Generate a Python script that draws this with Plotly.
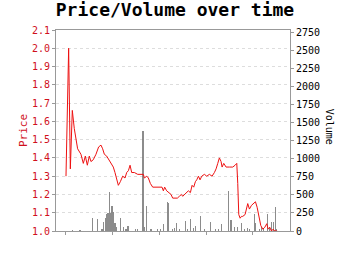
import plotly.graph_objects as go

# Price series (x in day-like units, ticks every 100)
price_x = [0, 5.7, 9.3, 13.5, 17.8, 21.4, 24.9, 32, 37.1, 41.4, 45.7, 49.9, 53.5, 58.4, 64.2, 69.9,
           74.9, 78.5, 82.1, 87.1, 91.4, 96.3, 101.3, 104.9, 108.5, 112.1, 116.4, 121.4, 126.4, 130,
           133.6, 137.2, 140.7, 146.4, 153.6, 160.7, 165.7, 167.9, 172.9, 176.4, 180.7, 185.7, 192.8,
           199.9, 205.6, 208.5, 211.3, 215.6, 219.2, 224.9, 228.5, 234.2, 238.5, 242.8, 247.1, 249.9,
           253.5, 258.5, 262.1, 266.4, 270, 273.5, 277.1, 280, 283.6, 287.1, 290.7, 296.4, 301.4,
           307.1, 312.8, 317.8, 321.4, 325, 328.5, 332.1, 334.3, 337.8, 342.8, 350, 357.1, 362.1,
           365.7, 367.8, 370, 372.9, 375.7, 378.5, 383.5, 389.2, 392.8, 397.1, 401.4, 405.7, 409.3,
           412.8, 417.1, 421.4, 425.7, 430, 432.9, 436.4, 440, 443.5, 447.1, 450, 452.1]
price = [1.30, 2.00, 1.34, 1.66, 1.56, 1.50, 1.45, 1.42, 1.37, 1.41, 1.36, 1.41, 1.38, 1.39, 1.42, 1.46,
         1.47, 1.45, 1.42, 1.41, 1.39, 1.37, 1.35, 1.32, 1.29, 1.25, 1.27, 1.30, 1.29, 1.32,
         1.33, 1.36, 1.32, 1.32, 1.31, 1.31, 1.31, 1.29, 1.30, 1.29, 1.26, 1.24, 1.24,
         1.24, 1.24, 1.22, 1.24, 1.22, 1.21, 1.20, 1.18, 1.18, 1.18, 1.19, 1.20, 1.19,
         1.20, 1.21, 1.22, 1.21, 1.25, 1.24, 1.27, 1.28, 1.30, 1.28, 1.30, 1.31, 1.30,
         1.31, 1.30, 1.32, 1.34, 1.37, 1.40, 1.38, 1.35, 1.37, 1.35, 1.35, 1.35, 1.36,
         1.37, 1.26, 1.09, 1.07, 1.08, 1.08, 1.09, 1.15, 1.12, 1.14, 1.15, 1.16, 1.13,
         1.08, 1.03, 1.01, 1.02, 1.04, 1.01, 1.02, 1.00, 1.01, 1.00, 1.00, 1.00]

# Volume bars (zoom x positions converted to data units)
vol_zx = [50, 72, 110, 125, 138, 143, 148, 152, 156, 160, 164, 168, 172, 177, 181, 193, 203, 210, 216,
          238, 244, 261, 265, 272, 285, 305, 313, 322, 334, 339, 350, 356, 362, 371, 390, 396, 405,
          412, 420, 435, 445, 465, 478, 488, 498, 518, 523, 528, 535, 545, 557, 565, 575, 582, 596,
          600, 610, 616, 622, 636, 640, 647, 652, 658, 662]
volume = [15, 15, 175, 166, 23, 129, 175, 235, 244, 535, 244, 350, 267, 106, 60, 175, 60, 23, 69,
          23, 28, 1387, 60, 346, 28, 23, 23, 97, 405, 382, 28, 37, 106, 23, 138, 23, 166,
          37, 64, 207, 23, 120, 23, 23, 92, 549, 152, 152, 60, 51, 106, 23, 37, 23, 240,
          115, 28, 60, 28, 230, 60, 129, 129, 332, 23]
vol_x = [round((z / 3 - 10) * 2.14, 1) for z in vol_zx]

price_ticks = [1.0, 1.1, 1.2, 1.3, 1.4, 1.5, 1.6, 1.7, 1.8, 1.9, 2.0, 2.1]
vol_ticks = list(range(0, 2751, 250))
x_ticks = [0, 100, 200, 300, 400]

mono = "DejaVu Sans Mono"
red = "#d0101c"
axis_gray = "#999999"

fig = go.Figure()
fig.add_trace(go.Bar(x=vol_x, y=volume, yaxis="y", width=2.4,
                     marker=dict(color="rgba(120,120,120,0.85)", line=dict(width=0)),
                     showlegend=False))
fig.add_trace(go.Scatter(x=price_x, y=price, yaxis="y2", mode="lines",
                         line=dict(color="#ee1111", width=1), showlegend=False))

fig.update_layout(
    width=350, height=255,
    margin=dict(l=56, r=60, t=30, b=24),
    paper_bgcolor="white", plot_bgcolor="white",
    title=dict(text="<b>Price/Volume over time</b>", x=0.5, xanchor="center",
               y=0.985, yanchor="top", font=dict(family=mono, size=18, color="black")),
    xaxis=dict(range=[-21.4, 479.7], tickvals=x_ticks, showticklabels=False,
               ticks="outside", ticklen=3, tickcolor=axis_gray,
               showline=True, linecolor=axis_gray, linewidth=1, mirror=True,
               showgrid=False, zeroline=False),
    yaxis=dict(side="right", range=[0, 2778], tickvals=vol_ticks,
               ticks="outside", ticklen=3, tickcolor=axis_gray,
               tickfont=dict(family=mono, size=10, color="black"),
               showline=True, linecolor=axis_gray, linewidth=1,
               showgrid=False, zeroline=False),
    yaxis2=dict(side="left", overlaying="y", range=[1.0, 2.1], tickvals=price_ticks,
                tickformat=".1f",
                ticks="outside", ticklen=3, tickcolor=axis_gray,
                tickfont=dict(family=mono, size=10, color=red),
                title=dict(text="Price", font=dict(family=mono, size=11, color=red), standoff=2),
                showline=True, linecolor=axis_gray, linewidth=1,
                showgrid=True, gridcolor="#dddddd", griddash="dot", gridwidth=1,
                zeroline=False),
    annotations=[dict(text="Volume", xref="paper", yref="paper", x=1.17, y=0.52,
                      xanchor="center", yanchor="middle", textangle=90, showarrow=False,
                      font=dict(family=mono, size=10, color="black"))],
    bargap=0,
)

fig.write_html("out.html")
